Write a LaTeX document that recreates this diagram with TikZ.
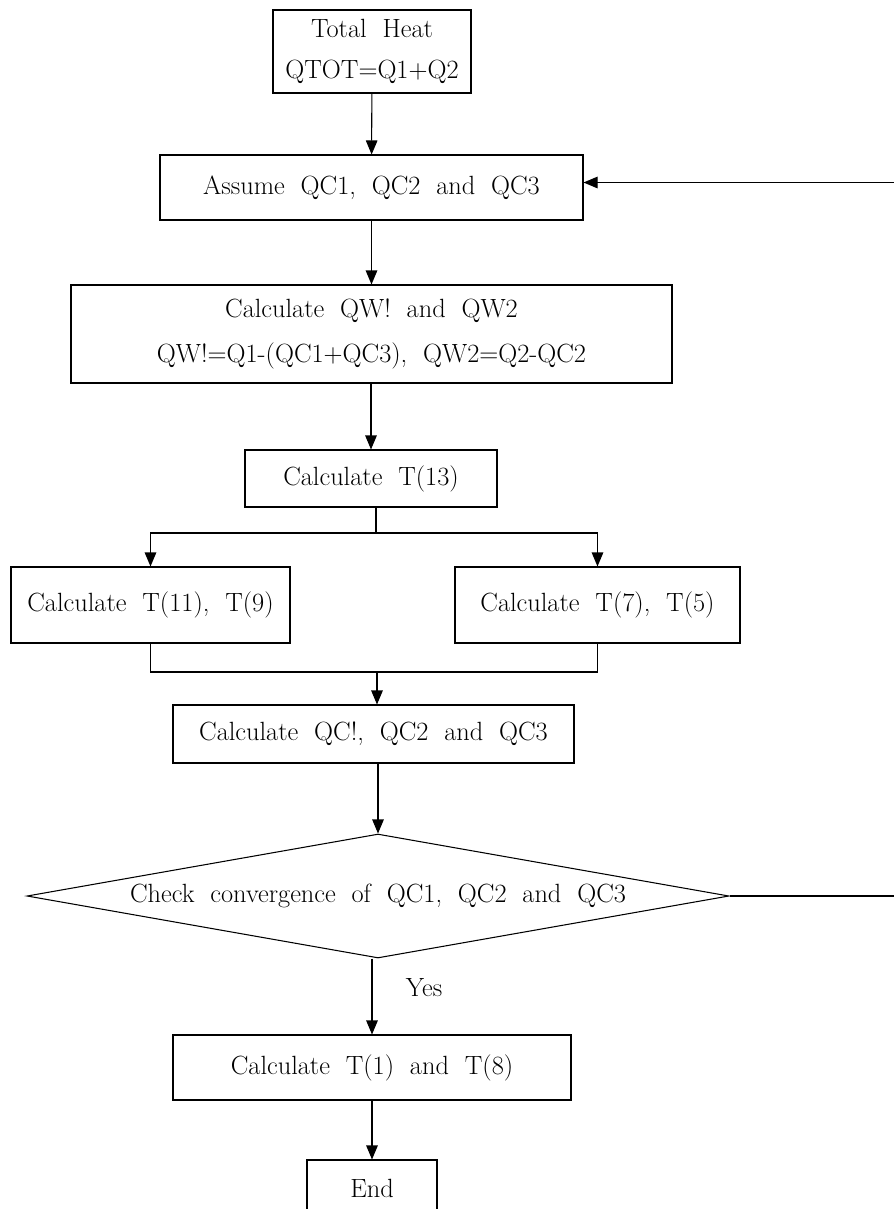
\documentclass[tikz,border=0pt]{standalone}
\usepackage{tikz}
\usetikzlibrary{arrows.meta, shapes.geometric}
\newcommand{\boxfont}{\fontsize{15}{18}\selectfont\spaceskip 9pt\relax}

\begin{document}
\begin{tikzpicture}[line width=0.6pt,
				arr/.style={-{Triangle[length=2.8mm,width=2.3mm]}},
				box/.style={draw, align=center, inner sep=0pt, font=\boxfont},
				decision/.style={draw, diamond, aspect=5.66, inner sep=0pt,
					minimum width=14.04cm, minimum height=2.48cm, font=\boxfont}]
				\clip (0,0) rectangle (17.88,-24.18);
				% boxes
				\node at (7.44,-1.03) (heat) [box, minimum width=3.96cm, minimum height=1.66cm] {Total Heat\\[5pt]QTOT=Q1+Q2};
				\node at (7.43,-3.75) (assume) [box, minimum width=8.46cm, minimum height=1.3cm] {Assume QC1, QC2 and QC3};
				\node at (7.43,-6.68) (calcqw) [box, minimum width=12.02cm, minimum height=1.96cm] {Calculate QW! and QW2\\[8pt]QW!=Q1-(QC1+QC3), QW2=Q2-QC2};
				\node at (7.42,-9.57) (t13) [box, minimum width=5.04cm, minimum height=1.14cm] {Calculate T(13)};
				\node at (3.01,-12.1) (t11) [box, minimum width=5.58cm, minimum height=1.52cm] {Calculate T(11), T(9)};
				\node at (11.95,-12.1) (t7) [box, minimum width=5.7cm, minimum height=1.52cm] {Calculate T(7), T(5)};
				\node at (7.47,-14.68) (qc) [box, minimum width=8.02cm, minimum height=1.16cm] {Calculate QC!, QC2 and QC3};
				\node at (7.56,-17.92) (check) [decision] {Check convergence of QC1, QC2 and QC3};
				\node at (7.44,-21.35) (t1) [box, minimum width=7.96cm, minimum height=1.3cm] {Calculate T(1) and T(8)};
				\node at (7.44,-23.76) (end) [box, minimum width=2.6cm, minimum height=1.12cm] {End};
				\coordinate (split) at (7.52,-10.66);
				\coordinate (join) at (7.54,-13.44);
				\coordinate (loopx) at (18.3,0);
				\coordinate (assumein) at ([yshift=0.1cm]assume.east);
				% connectors
				\draw[arr] (heat) -- (assume);
				\draw[arr] (assume) -- (assume.south |- calcqw.north);
				\draw[arr] (calcqw.south -| t13) -- (t13);
				\draw (t13.south -| split) -- (split);
				\draw[arr] (split) -| (t11.north);
				\draw[arr] (split) -| (t7.north);
				\draw (t11.south) |- (join);
				\draw (t7.south) |- (join);
				\draw[arr] (join) -- (join |- qc.north);
				\draw[arr] (qc.south -| check.north) -- (check.north);
				\draw[arr] (check.south -| t1) -- node[pos=0.38, right=0.55cm, font=\boxfont] (yes) {Yes} (t1);
				\draw[arr] (t1) -- (end);
				\draw[arr] (check.east) -- (check.east -| loopx) -- (assumein -| loopx) -- (assumein);
			\end{tikzpicture}
\end{document}
